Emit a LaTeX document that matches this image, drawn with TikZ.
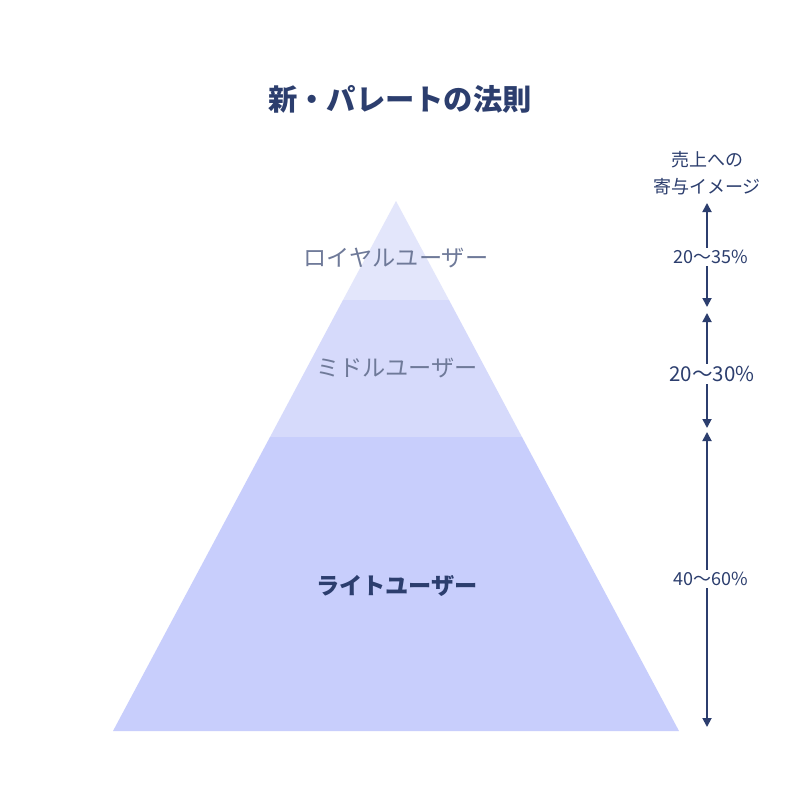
\documentclass[tikz,border=0pt]{standalone}
\usepackage{fontspec}
\newfontfamily\jp{Noto Sans CJK JP}
\usetikzlibrary{arrows.meta}
\definecolor{navy}{HTML}{2C3E6E}
\definecolor{grayblue}{HTML}{6F7A99}
\definecolor{bandA}{HTML}{E3E6FB}
\definecolor{bandB}{HTML}{D6DAFB}
\definecolor{bandC}{HTML}{C8CEFC}
\tikzset{
  lbl/.style={font=\jp\fontsize{23.2}{26}\selectfont, text=grayblue, inner sep=0pt},
  pct/.style={font=\jp\fontsize{18}{21}\selectfont, text=navy, fill=white, inner sep=2pt},
  arr/.style={draw=navy, line width=1.8pt, {Triangle[width=9pt,length=9pt]}-{Triangle[width=9pt,length=9pt]}}
}
\begin{document}
\begin{tikzpicture}[x=1pt,y=-1pt]
\useasboundingbox (0,0) rectangle (800,803);
\fill[white] (0,0) rectangle (800,803);
% pyramid bands
\fill[bandA] (396,201) -- (449,300) -- (343,300) -- cycle;
\fill[bandB] (343,300) -- (449,300) -- (522,437) -- (270,437) -- cycle;
\fill[bandC] (270,437) -- (522,437) -- (679,731) -- (113,731) -- cycle;
% title
\node[font=\jp\bfseries\fontsize{29.3}{34}\selectfont, text=navy, inner sep=0pt] (title) at (400,99) {新・パレートの法則};
% labels
\node[lbl] (royal) at (396,258) {ロイヤルユーザー};
\node[lbl] (middle) at (397,368) {ミドルユーザー};
\node[lbl, font=\jp\bfseries\fontsize{23.2}{26}\selectfont, text=navy] (light) at (397,586) {ライトユーザー};
% heading
\node[font=\jp\fontsize{18}{27}\selectfont, text=navy, align=center, inner sep=0pt] (head) at (707,173) {売上への\\寄与イメージ};
% arrows
\coordinate (a1t) at (707,203);
\coordinate (a1b) at (707,307);
\coordinate (a2t) at (707,313);
\coordinate (a2b) at (707,428);
\coordinate (a3t) at (707,432);
\coordinate (a3b) at (707,727);
\draw[arr] (a1t) -- (a1b);
\draw[arr] (a2t) -- (a2b);
\draw[arr] (a3t) -- (a3b);
\node[pct] (p1) at (711,257) {20〜35\%};
\node[pct, font=\jp\fontsize{20.5}{24}\selectfont] (p2) at (712,374) {20〜30\%};
\node[pct] (p3) at (711,579) {40〜60\%};
\end{tikzpicture}
\end{document}
